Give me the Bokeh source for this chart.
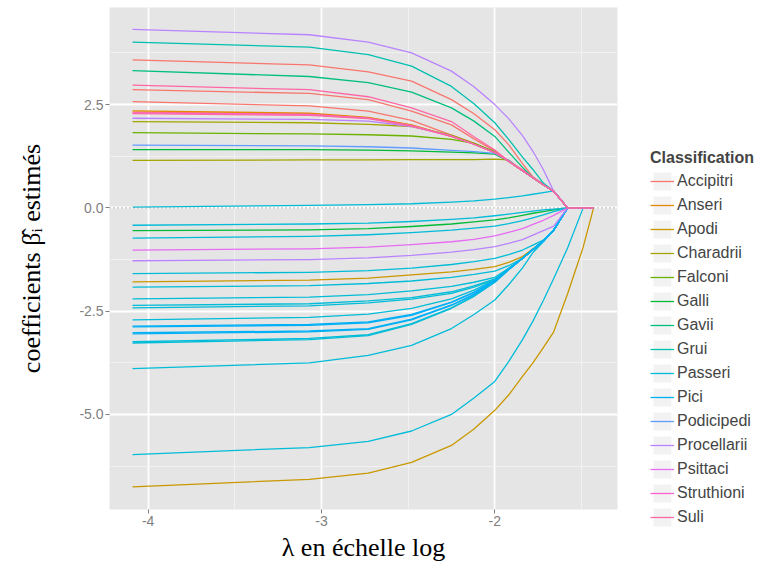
from bokeh.plotting import figure
from bokeh.models import (Range1d, FixedTicker, NumeralTickFormatter, Legend,
                          LegendItem, Span, ColumnDataSource)
from bokeh.embed import file_html
from bokeh.resources import INLINE

# ---------------- data ----------------
LOG_LAMBDA = [-4.09, -3.07, -2.73, -2.48, -2.25, -2.12, -2.0, -1.92, -1.84, -1.78,
              -1.72, -1.66, -1.58, -1.49, -1.43]

CLASSES = ["Accipitri", "Anseri", "Apodi", "Charadrii", "Falconi", "Galli", "Gavii",
           "Grui", "Passeri", "Pici", "Podicipedi", "Procellarii", "Psittaci",
           "Struthioni", "Suli"]
COLORS = ["#F8766D", "#E58700", "#C99800", "#A3A500", "#6BB100", "#00BA38", "#00BF7D",
          "#00C0AF", "#00BCD8", "#00B0F6", "#619CFF", "#B983FF", "#E76BF3",
          "#FD61D1", "#FF67A4"]

ACCIPITRI = [
    [3.58, 3.46, 3.29, 3.07, 2.62, 2.28, 1.89, 1.53, 1.07, 0.75, 0.57, 0.40, 0, 0, 0],
    [2.86, 2.77, 2.62, 2.34, 2.01, 1.67, 1.38, 1.13, 0.92, 0.73, 0.56, 0.40, 0, 0, 0],
    [2.57, 2.47, 2.34, 2.12, 1.76, 1.57, 1.35, 1.13, 0.90, 0.73, 0.56, 0.40, 0, 0, 0],
    [2.32, 2.27, 2.18, 2.00, 1.73, 1.54, 1.34, 1.13, 0.90, 0.73, 0.56, 0.40, 0, 0, 0],
]
ANSERI = [
    [2.35, 2.29, 2.19, 2.01, 1.73, 1.54, 1.34, 1.13, 0.90, 0.73, 0.56, 0.40, 0, 0, 0],
]
APODI = [
    [-1.79, -1.75, -1.70, -1.62, -1.55, -1.49, -1.42, -1.32, -1.18, -0.99, -0.80, -0.54, 0, 0, 0],
    [-6.75, -6.57, -6.42, -6.16, -5.75, -5.35, -4.90, -4.53, -4.08, -3.75, -3.38, -3.00, -2.08, -0.95, 0],
]
CHARADRII = [
    [2.09, 2.06, 2.02, 1.97, 1.76, 1.56, 1.34, 1.13, 0.90, 0.73, 0.56, 0.40, 0, 0, 0],
    [1.15, 1.16, 1.16, 1.17, 1.17, 1.17, 1.18, 1.16, 0.90, 0.73, 0.56, 0.40, 0, 0, 0],
]
FALCONI = [
    [1.82, 1.79, 1.77, 1.74, 1.66, 1.56, 1.36, 1.13, 0.90, 0.73, 0.56, 0.40, 0, 0, 0],
]
GALLI = [
    [1.41, 1.41, 1.40, 1.38, 1.35, 1.33, 1.30, 1.13, 0.90, 0.73, 0.56, 0.40, 0, 0, 0],
    [-0.55, -0.53, -0.50, -0.45, -0.39, -0.34, -0.29, -0.24, -0.18, -0.13, -0.09, -0.05, 0, 0, 0],
]
GAVII = [
    [3.32, 3.18, 3.03, 2.80, 2.42, 2.10, 1.73, 1.35, 0.98, 0.73, 0.57, 0.40, 0, 0, 0],
]
GRUI = [
    [4.01, 3.89, 3.71, 3.43, 2.94, 2.52, 2.06, 1.66, 1.23, 0.93, 0.60, 0.40, 0, 0, 0],
]
PASSERI = [
    [0.02, 0.06, 0.08, 0.10, 0.14, 0.17, 0.21, 0.25, 0.29, 0.33, 0.37, 0.41, 0, 0, 0],
    [-0.42, -0.39, -0.37, -0.33, -0.28, -0.24, -0.19, -0.15, -0.11, -0.08, -0.05, -0.03, 0, 0, 0],
    [-0.73, -0.69, -0.65, -0.60, -0.54, -0.49, -0.44, -0.38, -0.31, -0.24, -0.17, -0.09, 0, 0, 0],
    [-1.59, -1.56, -1.52, -1.46, -1.37, -1.30, -1.22, -1.13, -1.02, -0.90, -0.78, -0.54, 0, 0, 0],
    [-1.92, -1.88, -1.83, -1.77, -1.68, -1.61, -1.53, -1.40, -1.22, -1.01, -0.80, -0.54, 0, 0, 0],
    [-2.20, -2.16, -2.10, -2.01, -1.90, -1.80, -1.68, -1.46, -1.22, -1.01, -0.80, -0.54, 0, 0, 0],
    [-2.36, -2.32, -2.25, -2.17, -2.03, -1.89, -1.72, -1.47, -1.22, -1.01, -0.80, -0.54, 0, 0, 0],
    [-2.42, -2.37, -2.30, -2.21, -2.07, -1.92, -1.74, -1.48, -1.22, -1.01, -0.80, -0.54, 0, 0, 0],
    [-2.71, -2.65, -2.57, -2.43, -2.20, -1.99, -1.75, -1.48, -1.22, -1.01, -0.80, -0.54, 0, 0, 0],
    [-3.24, -3.16, -3.07, -2.80, -2.42, -2.13, -1.80, -1.50, -1.22, -1.01, -0.80, -0.54, 0, 0, 0],
    [-3.27, -3.19, -3.09, -2.82, -2.43, -2.14, -1.80, -1.50, -1.22, -1.01, -0.80, -0.54, 0, 0, 0],
    [-3.89, -3.75, -3.57, -3.33, -2.92, -2.58, -2.23, -1.86, -1.45, -1.08, -0.82, -0.54, 0, 0, 0],
    [-5.97, -5.80, -5.65, -5.40, -5.00, -4.60, -4.20, -3.72, -3.19, -2.74, -2.24, -1.71, -0.97, 0, 0],
]
PICI = [
    [-2.86, -2.82, -2.76, -2.58, -2.28, -2.04, -1.76, -1.49, -1.22, -1.01, -0.80, -0.54, 0, 0, 0],
    [-2.88, -2.84, -2.78, -2.60, -2.29, -2.05, -1.76, -1.49, -1.22, -1.01, -0.80, -0.54, 0, 0, 0],
    [-3.02, -2.98, -2.92, -2.69, -2.35, -2.09, -1.78, -1.49, -1.22, -1.01, -0.80, -0.54, 0, 0, 0],
    [-3.05, -3.00, -2.94, -2.71, -2.36, -2.10, -1.78, -1.49, -1.22, -1.01, -0.80, -0.54, 0, 0, 0],
]
PODICIPEDI = [
    [1.52, 1.50, 1.48, 1.45, 1.39, 1.36, 1.32, 1.15, 0.90, 0.73, 0.56, 0.40, 0, 0, 0],
]
PROCELLARII = [
    [4.32, 4.19, 4.01, 3.75, 3.31, 2.93, 2.50, 2.16, 1.75, 1.37, 0.93, 0.40, 0, 0, 0],
    [2.17, 2.14, 2.10, 1.97, 1.74, 1.54, 1.34, 1.13, 0.90, 0.73, 0.56, 0.40, 0, 0, 0],
    [-1.28, -1.25, -1.21, -1.15, -1.07, -1.01, -0.94, -0.86, -0.77, -0.66, -0.55, -0.44, 0, 0, 0],
]
PSITTACI = [
    [-1.02, -0.99, -0.95, -0.89, -0.82, -0.76, -0.68, -0.59, -0.50, -0.40, -0.30, -0.18, 0, 0, 0],
]
STRUTHIONI = [
    [2.30, 2.26, 2.17, 1.99, 1.73, 1.54, 1.34, 1.13, 0.90, 0.73, 0.56, 0.40, 0, 0, 0],
]
SULI = [
    [2.97, 2.86, 2.69, 2.42, 2.09, 1.72, 1.40, 1.13, 0.92, 0.73, 0.56, 0.40, 0, 0, 0],
    [2.28, 2.24, 2.16, 1.98, 1.73, 1.54, 1.34, 1.13, 0.90, 0.73, 0.56, 0.40, 0, 0, 0],
]

PATHS = [ACCIPITRI, ANSERI, APODI, CHARADRII, FALCONI, GALLI, GAVII, GRUI, PASSERI,
         PICI, PODICIPEDI, PROCELLARII, PSITTACI, STRUTHIONI, SULI]

X_TICKS = [-4, -3, -2]
X_MINOR = [-3.5, -2.5, -1.5]
Y_TICKS = [-5.0, -2.5, 0.0, 2.5]
Y_MINOR = [-6.25, -3.75, -1.25, 1.25, 3.75]
ZERO_LINE = 0.0

# ---------------- figure ----------------
p = figure(frame_width=508, frame_height=502, output_backend="svg", toolbar_location=None,
           x_range=Range1d(-4.223, -1.292), y_range=Range1d(-7.30, 4.85),
           min_border_left=109, min_border_right=141, min_border_top=7,
           min_border_bottom=58,
           background_fill_color="#E5E5E5", border_fill_color="white",
           outline_line_color=None)

xt = FixedTicker(ticks=X_TICKS, minor_ticks=X_MINOR)
yt = FixedTicker(ticks=Y_TICKS, minor_ticks=Y_MINOR)
p.xaxis.ticker = xt
p.yaxis.ticker = yt
p.xgrid.ticker = xt
p.ygrid.ticker = yt
p.xaxis.formatter = NumeralTickFormatter(format="0")
p.yaxis.formatter = NumeralTickFormatter(format="0.0")

for g in (p.xgrid, p.ygrid):
    g.grid_line_color = "white"
    g.grid_line_width = 1.8
    g.minor_grid_line_color = "#F2F2F2"
    g.minor_grid_line_width = 0.9

for ax in (p.xaxis, p.yaxis):
    ax.axis_line_color = None
    ax.major_tick_line_color = "#7F7F7F"
    ax.major_tick_out = 4
    ax.major_tick_in = 0
    ax.minor_tick_out = 0
    ax.minor_tick_in = 0
    ax.major_label_text_color = "#7F7F7F"
    ax.major_label_text_font = "Liberation Sans"
    ax.major_label_text_font_size = "14px"
    ax.major_label_standoff = 2
    ax.axis_label_text_font = "Liberation Serif"
    ax.axis_label_text_font_style = "normal"
    ax.axis_label_text_font_size = "26px"
    ax.axis_label_text_color = "black"

p.xaxis.axis_label_standoff = 4
p.yaxis.axis_label_standoff = 30

p.xaxis.axis_label = "λ en échelle log"
p.yaxis.axis_label = "coefficients β̂ᵢ estimés"

# legend key background (grey box behind each key)
key_box = p.rect(x=[LOG_LAMBDA[0]], y=[ZERO_LINE], width=0, height=0,
                 fill_color="#F2F2F2", line_color="white", line_width=1.2)

items = []
for cls, col, paths in zip(CLASSES, COLORS, PATHS):
    src = ColumnDataSource(dict(xs=[LOG_LAMBDA] * len(paths), ys=paths))
    r = p.multi_line(xs="xs", ys="ys", source=src, line_color=col, line_width=1.3,
                     line_join="round")
    items.append(LegendItem(label=cls, renderers=[key_box, r]))

p.add_layout(Span(location=ZERO_LINE, dimension="width", line_color="#8C8C8C",
                  line_width=1.1, line_dash="1 3"))

legend = Legend(items=items, location=(33, -20), title="Classification",
                title_text_font="Liberation Sans", title_text_font_style="bold",
                title_text_font_size="16px", title_standoff=2,
                label_text_font="Liberation Sans", label_text_font_size="16px",
                label_standoff=3, glyph_width=24, glyph_height=24, label_height=20,
                spacing=0, padding=0, margin=0, border_line_color=None,
                background_fill_alpha=0)
p.add_layout(legend, "right")

open("out.html", "w").write(file_html(p, INLINE))
